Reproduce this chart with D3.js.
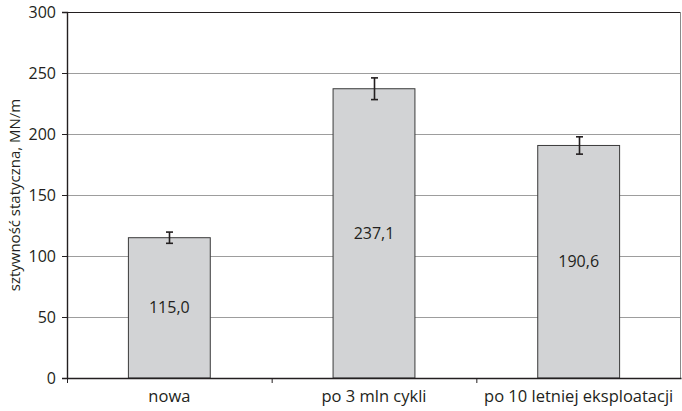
<!DOCTYPE html>
<html>
<head>
<meta charset="utf-8">
<script src="https://cdn.jsdelivr.net/npm/d3@7"></script>
<style>
  html, body { margin: 0; padding: 0; background: #fff; }
  svg text { font-family: "Open Sans", sans-serif; fill: #231f20; }
</style>
</head>
<body>
<div class="bar-chart"></div>
<script>
const categories = ['nowa', 'po 3 mln cykli', 'po 10 letniej eksploatacji'];
const values = [115.0, 237.1, 190.6];
const errors = [4.6, 8.9, 7.1];
const yTicks = [0, 50, 100, 150, 200, 250, 300];
const yLabel = 'sztywność statyczna, MN/m';

const width = 682;
const height = 411;
const margin = { top: 12, right: 1, bottom: 33, left: 67 };

const svg = d3.select('.bar-chart')
  .append('svg')
  .attr('width', width)
  .attr('height', height);

const innerW = width - margin.left - margin.right;
const innerH = height - margin.top - margin.bottom;

const g = svg.append('g')
  .attr('transform', `translate(${margin.left},${margin.top})`);

const xScale = d3.scaleBand().domain(categories).range([0, innerW]).padding(0);
const yScale = d3.scaleLinear().domain([0, 300]).range([innerH, 0]);
const barW = xScale.bandwidth() * 0.4;

// grid lines
g.append('g')
  .selectAll('line')
  .data(yTicks.filter((t) => t > 0 && t < 300))
  .join('line')
  .attr('x1', 0)
  .attr('x2', innerW)
  .attr('y1', (d) => yScale(d) + 0.5)
  .attr('y2', (d) => yScale(d) + 0.5)
  .attr('stroke', '#9d9d9d')
  .attr('stroke-width', 1);

// frame: top black, right grey
g.append('line')
  .attr('x1', 0).attr('x2', innerW)
  .attr('y1', 0.5).attr('y2', 0.5)
  .attr('stroke', '#231f20');
g.append('line')
  .attr('x1', innerW - 0.5).attr('x2', innerW - 0.5)
  .attr('y1', 0).attr('y2', innerH)
  .attr('stroke', '#8a8a8a');

// bars
g.append('g')
  .selectAll('rect')
  .data(values)
  .join('rect')
  .attr('x', (d, i) => xScale(categories[i]) + (xScale.bandwidth() - barW) / 2)
  .attr('y', (d) => yScale(d))
  .attr('width', barW)
  .attr('height', (d) => innerH - yScale(d))
  .attr('fill', '#d2d3d5')
  .attr('stroke', '#3a3a3a')
  .attr('stroke-width', 1);

// value labels
g.append('g')
  .selectAll('text')
  .data(values)
  .join('text')
  .attr('x', (d, i) => xScale(categories[i]) + xScale.bandwidth() / 2)
  .attr('y', (d) => (yScale(d) + innerH) / 2)
  .attr('dy', '0.35em')
  .attr('text-anchor', 'middle')
  .style('font-size', '16px')
  .text((d) => d.toFixed(1).replace('.', ','));

// error bars
const errG = g.append('g')
  .attr('stroke', '#231f20')
  .attr('stroke-width', 1.6);
values.forEach((v, i) => {
  const cx = Math.round(xScale(categories[i]) + xScale.bandwidth() / 2) + 0.5;
  const y0 = yScale(v - errors[i]);
  const y1 = yScale(v + errors[i]);
  errG.append('line').attr('x1', cx).attr('x2', cx).attr('y1', y0).attr('y2', y1);
  errG.append('line').attr('x1', cx - 3.5).attr('x2', cx + 3.5).attr('y1', y0).attr('y2', y0);
  errG.append('line').attr('x1', cx - 3.5).attr('x2', cx + 3.5).attr('y1', y1).attr('y2', y1);
});

// y axis
const yAxis = g.append('g')
  .call(d3.axisLeft(yScale).tickValues(yTicks).tickSize(5).tickPadding(6));
yAxis.select('.domain').attr('stroke', '#231f20').attr('stroke-width', 1.4);
yAxis.selectAll('.tick line').attr('stroke', '#231f20');
yAxis.selectAll('.tick text')
  .style('font-size', '16px')
  .attr('fill', '#231f20');

// x axis
const xAxis = g.append('g')
  .attr('transform', `translate(0,${innerH})`)
  .call(d3.axisBottom(xScale).tickSize(0).tickPadding(12));
xAxis.select('.domain').attr('stroke', '#231f20').attr('stroke-width', 1.4);
xAxis.selectAll('.tick text')
  .style('font-size', '16.5px')
  .attr('fill', '#231f20');

// category separators (ticks between bands)
g.append('g')
  .selectAll('line')
  .data(categories)
  .join('line')
  .attr('x1', (d) => xScale(d) + 0.5)
  .attr('x2', (d) => xScale(d) + 0.5)
  .attr('y1', innerH)
  .attr('y2', innerH + 5)
  .attr('stroke', '#231f20');

// y label
svg.append('text')
  .attr('transform', `translate(20,${margin.top + innerH / 2}) rotate(-90)`)
  .attr('text-anchor', 'middle')
  .style('font-size', '15px')
  .text(yLabel);
</script>
</body>
</html>
